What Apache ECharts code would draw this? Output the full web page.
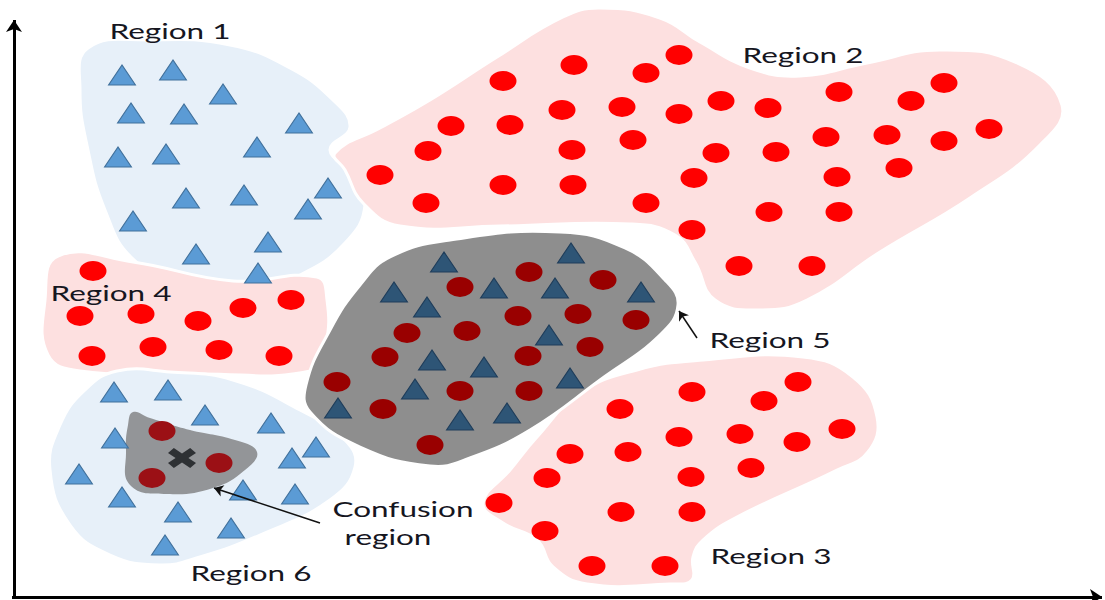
<!DOCTYPE html>
<html>
<head>
<meta charset="utf-8">
<script src="https://cdn.jsdelivr.net/npm/echarts@6/dist/echarts.min.js"></script>
<style>
  html, body { margin: 0; padding: 0; background: #fff; }
  #chart { width: 1105px; height: 600px; }
</style>
</head>
<body>
<div id="chart"></div>
<script>
// points (x, y in picture units, y grows downward)
const region1Triangles = [[122,75],[173,70],[223,94],[131,113],[184,114],[299,123],[118,157],[166,154],[257,147],[186,198],[244,195],[328,188],[308,209],[133,221],[268,242],[196,254],[258,273]];
const region2Circles = [[503,81],[574,65],[646,73],[679,55],[451,126],[510,125],[562,110],[622,107],[679,114],[721,101],[428,151],[572,150],[633,140],[716,153],[380,175],[426,203],[503,185],[573,185],[694,178],[646,203],[692,230],[768,108],[839,92],[911,101],[944,83],[989,129],[826,137],[887,135],[944,141],[776,152],[837,177],[899,168],[769,212],[839,212],[739,266],[812,266]];
const region3Circles = [[798,382],[692,392],[764,401],[620,409],[842,429],[679,437],[740,434],[797,442],[570,454],[628,452],[751,468],[547,478],[691,477],[499,503],[621,512],[692,512],[545,531],[592,566],[665,566]];
const region4Circles = [[93,271],[80,316],[141,314],[198,321],[243,308],[291,300],[92,356],[153,347],[219,350],[279,356]];
const region5Triangles = [[444,262],[571,253],[394,292],[427,307],[494,288],[555,288],[641,292],[549,335],[432,360],[484,367],[570,378],[415,389],[338,408],[460,420],[507,413]];
const region5Circles = [[529,272],[603,280],[460,287],[518,316],[578,314],[636,320],[407,333],[467,331],[590,347],[385,357],[528,356],[337,382],[460,391],[529,391],[383,409],[430,445]];
const region6Triangles = [[114,392],[168,390],[205,415],[271,423],[115,438],[316,447],[292,458],[79,474],[243,490],[295,494],[122,497],[178,512],[231,528],[165,545]];
const confusionCircles = [[162,431],[219,463],[152,478]];
const queryPoint = [[182,458]];

// region outlines
const region1Outline = [[88,48],[150,40],[230,45],[290,68],[333,100],[350,127],[330,150],[352,172],[365,205],[345,243],[300,275],[250,290],[180,283],[132,258],[105,210],[88,150],[80,90]];
const region2Outline = [[335,153],[380,128],[430,100],[497,57],[563,17],[600,8],[660,18],[700,42],[750,68],[800,76],[867,63],[940,50],[1017,63],[1062,105],[1040,145],[970,198],[880,252],[807,300],[760,310],[715,300],[695,262],[675,235],[630,224],[500,226],[400,226],[363,203],[345,170]];
const region3Outline = [[483,503],[510,470],[537,437],[580,393],[637,370],[703,360],[803,357],[853,377],[877,417],[868,452],[837,470],[737,517],[703,540],[693,557],[692,580],[670,584],[587,584],[553,567],[537,540],[503,523]];
const region4Outline = [[58,256],[133,262],[233,281],[317,277],[327,300],[326,345],[315,370],[200,374],[80,371],[48,355],[45,300]];
const region5Outline = [[390,257],[450,240],[560,232],[625,248],[665,280],[678,305],[660,335],[600,380],[530,430],[470,458],[430,466],[360,447],[310,412],[306,385],[330,330],[360,285]];
const region6Outline = [[117,371],[170,372],[233,380],[300,410],[345,440],[355,467],[330,500],[260,535],[200,557],[160,565],[110,555],[70,525],[50,470],[60,425],[85,390]];
const confusionOutline = [[133,412],[150,418],[190,430],[235,440],[257,452],[245,470],[213,488],[167,494],[130,485],[126,450],[128,425]];

// axes and pointer arrows
const axisArrows = [[[14,597],[14,20]], [[12,597],[1102,597]]];
const pointerArrows = [[[697,338],[679,311]], [[320,523],[214,488]]];

const regionLabels = ['Region 1', 'Region 2', 'Region 3', 'Region 4', 'Region 5', 'Region 6', 'Confusion', 'region'];
const labelPlaces = [[170,31],[803,55],[771,556],[111,293],[770,340],[251,573],[403,509],[388,537]];

const ellipse = 'path://M0,10A13.5,10 0 1,0 27,10A13.5,10 0 1,0 0,10Z';
const cross = 'path://M0,5L5,0L12,5.5L19,0L24,5L17.5,10L24,15L19,20L12,14.5L5,20L0,15L6.5,10Z';

function blob(outline, fill, z, stroke) {
  return {
    type: 'custom',
    coordinateSystem: 'cartesian2d',
    silent: true,
    z: z,
    data: [0],
    renderItem: function (params, api) {
      return {
        type: 'polygon',
        shape: { points: outline.map(p => api.coord(p)), smooth: 0.45 },
        style: { fill: fill, stroke: stroke ? '#fff' : null, lineWidth: 3 }
      };
    }
  };
}

function dots(data, symbol, color, border, z) {
  return {
    type: 'scatter',
    data: data,
    symbol: symbol,
    symbolSize: [27, 20],
    z: z,
    silent: true,
    itemStyle: { color: color, borderColor: border, borderWidth: border ? 1 : 0, opacity: 1 }
  };
}

const chart = echarts.init(document.getElementById('chart'), null, { renderer: 'svg' });
chart.setOption({
  animation: false,
  backgroundColor: '#fff',
  grid: { left: 0, right: 0, top: 0, bottom: 0 },
  xAxis: { type: 'value', min: 0, max: 1105, show: false },
  yAxis: { type: 'value', min: 0, max: 600, inverse: true, show: false },
  graphic: regionLabels.map((t, i) => ({
    type: 'text',
    x: labelPlaces[i][0],
    y: labelPlaces[i][1],
    scaleX: 1.5,
    z: 20,
    style: {
      text: t,
      font: '21px Lato',
      fill: '#16161f',
      textAlign: 'center',
      textVerticalAlign: 'middle'
    }
  })),
  series: [
    blob(region1Outline, '#e7f0f9', 1, true),
    blob(region4Outline, '#fde0e0', 1, true),
    blob(region2Outline, '#fde0e0', 1, true),
    blob(region6Outline, '#e7f0f9', 1, true),
    blob(region3Outline, '#fde0e0', 1, true),
    blob(region5Outline, '#8e8e8e', 2, true),
    blob(confusionOutline, '#939598', 3, false),
    dots(region1Triangles, 'triangle', '#5b9bd5', '#41719c', 5),
    dots(region6Triangles, 'triangle', '#5b9bd5', '#41719c', 5),
    dots(region2Circles, ellipse, '#ff0000', null, 5),
    dots(region3Circles, ellipse, '#ff0000', null, 5),
    dots(region4Circles, ellipse, '#ff0000', null, 5),
    dots(region5Triangles, 'triangle', '#2e5576', '#1f3d5a', 5),
    dots(region5Circles, ellipse, '#990000', null, 5),
    dots(confusionCircles, ellipse, '#9b1015', null, 5),
    {
      type: 'scatter',
      data: queryPoint,
      symbol: cross,
      symbolSize: [28, 20],
      z: 6,
      silent: true,
      itemStyle: { color: '#15181c' }
    },
    {
      type: 'lines',
      coordinateSystem: 'cartesian2d',
      z: 8,
      silent: true,
      symbol: ['none', 'arrow'],
      symbolSize: 12,
      lineStyle: { color: '#000', width: 3, opacity: 1, curveness: 0 },
      data: axisArrows.map(c => ({ coords: c }))
    },
    {
      type: 'lines',
      coordinateSystem: 'cartesian2d',
      z: 8,
      silent: true,
      symbol: ['none', 'arrow'],
      symbolSize: 9,
      lineStyle: { color: '#111', width: 1.5, opacity: 1, curveness: 0 },
      data: pointerArrows.map(c => ({ coords: c }))
    }
  ]
});
</script>
</body>
</html>
